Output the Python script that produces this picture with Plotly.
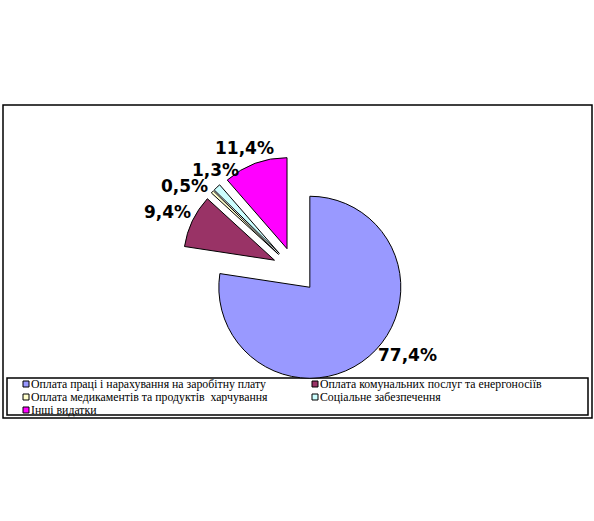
import math
import plotly.graph_objects as go

# ---- data ----
categories = [
    "Оплата праці і нарахування на заробітну плату",
    "Оплата комунальних послуг та енергоносіїв",
    "Оплата медикаментів та продуктів  харчування",
    "Соціальне забезпечення",
    "Інші видатки",
]
shares = [77.4, 9.4, 0.5, 1.3, 11.4]
colors = ["#9999FF", "#993366", "#FFFFCC", "#CCFFFF", "#FF00FF"]

labels_txt = [f"{v:.1f}%".replace(".", ",") for v in shares]

# ---- layout helpers (page pixels -> paper) ----
W, H = 594, 521


def px(x):
    return x / W


def py(y):
    return 1 - y / H


# pie geometry (page pixels)
cx, cy, r, pull = 295, 270, 91, 0.25
half = r * (1 + pull)

fig = go.Figure()
fig.add_trace(go.Pie(
    labels=categories,
    values=shares,
    text=labels_txt,
    textinfo="none",
    sort=False,
    direction="clockwise",
    rotation=0,
    pull=[pull] * len(shares),
    marker=dict(colors=colors, line=dict(color="black", width=1)),
    showlegend=False,
    hoverinfo="label+text",
    domain=dict(x=[px(cx - half), px(cx + half)],
                y=[py(cy + half), py(cy - half)]),
))

# ---- percentage labels, placed around each slice's mid-angle ----
label_radius = [141, 140, 139, 128, 132]      # px from pie centre
label_nudge = [-12, -1, -6, 5, -2]            # degrees
total = sum(shares)
annotations = []
cum = 0.0
for v, t, rad, dn in zip(shares, labels_txt, label_radius, label_nudge):
    mid = (cum + v / 2) / total * 360 + dn
    cum += v
    a = math.radians(mid)
    lx = cx + rad * math.sin(a)
    ly = cy - rad * math.cos(a)
    annotations.append(dict(
        x=px(lx), y=py(ly), xref="paper", yref="paper", text=t, showarrow=False,
        xanchor="center", yanchor="middle",
        font=dict(family="DejaVu Sans", size=17, color="black", weight="bold"),
    ))

# ---- legend (two columns inside a framed box) ----
col_x = [23, 312]
row_y = [384, 397, 410]
sq = 6
shapes = []
for i, (name, c) in enumerate(zip(categories, colors)):
    x0 = col_x[i % 2]
    yc = row_y[i // 2]
    shapes.append(dict(type="rect", xref="paper", yref="paper",
                       x0=px(x0), x1=px(x0 + sq), y0=py(yc + sq / 2), y1=py(yc - sq / 2),
                       line=dict(color="black", width=1), fillcolor=c))
    annotations.append(dict(
        x=px(x0 + sq + 1), y=py(yc), xref="paper", yref="paper", text=name,
        showarrow=False, xanchor="left", yanchor="middle", borderpad=0,
        font=dict(family="Liberation Serif", size=11.8, color="black"),
    ))


def frame(x0, y0, x1, y1):
    return dict(type="rect", xref="paper", yref="paper",
                x0=px(x0), x1=px(x1), y0=py(y1), y1=py(y0),
                line=dict(color="black", width=1.5), fillcolor="rgba(0,0,0,0)",
                layer="below")


shapes = [frame(3, 105, 592, 418), frame(7, 378, 588, 415)] + shapes

fig.update_layout(
    width=W, height=H,
    margin=dict(l=0, r=0, t=0, b=0),
    paper_bgcolor="white", plot_bgcolor="white",
    shapes=shapes,
    annotations=annotations,
    showlegend=False,
)

fig.write_html("out.html",
               config={"displayModeBar": False},
               post_script="document.body.style.margin='0';document.body.style.overflow='hidden';")
